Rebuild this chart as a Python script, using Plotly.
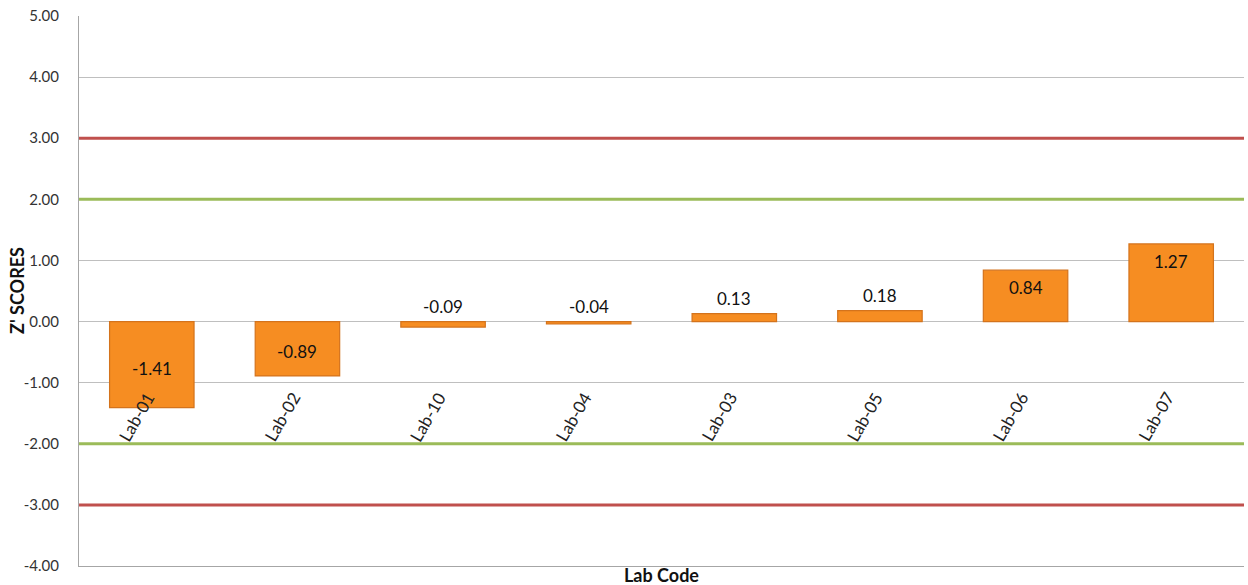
import plotly.graph_objects as go

# Z' scores per laboratory
labs = ["Lab-01", "Lab-02", "Lab-10", "Lab-04", "Lab-03", "Lab-05", "Lab-06", "Lab-07"]
z_scores = [-1.41, -0.89, -0.09, -0.04, 0.13, 0.18, 0.84, 1.27]

# Limit lines: warning (|z| = 2) and action (|z| = 3)
warning_limits = [2, -2]
action_limits = [3, -3]

y_ticks = [-4, -3, -2, -1, 0, 1, 2, 3, 4, 5]

FONT = "Lato"
BAR_FILL = "#F68D22"
BAR_EDGE = "#D4731C"
RED = "#C0504D"
GREEN = "#9BBB59"

fig = go.Figure()

fig.add_trace(go.Bar(
    x=labs,
    y=z_scores,
    width=0.58,
    marker=dict(color=BAR_FILL, line=dict(color=BAR_EDGE, width=1.2)),
    hoverinfo="x+y",
))

# limit lines across the full plot width
for v in action_limits:
    fig.add_shape(type="line", xref="paper", x0=0, x1=1, yref="y", y0=v, y1=v,
                  line=dict(color=RED, width=3), layer="above")
for v in warning_limits:
    fig.add_shape(type="line", xref="paper", x0=0, x1=1, yref="y", y0=v, y1=v,
                  line=dict(color=GREEN, width=3), layer="above")

annotations = []
# value labels
for lab, v in zip(labs, z_scores):
    text = f"{v:.2f}"
    if abs(v) < 0.5:
        annotations.append(dict(x=lab, y=max(v, 0), text=text, showarrow=False,
                                yanchor="bottom", yshift=3,
                                font=dict(family=FONT, size=17, color="#111")))
    elif v < 0:
        annotations.append(dict(x=lab, y=v * 0.55, text=text, showarrow=False,
                                yanchor="middle",
                                font=dict(family=FONT, size=17, color="#111")))
    else:
        annotations.append(dict(x=lab, y=v, text=text, showarrow=False,
                                yanchor="top", yshift=-5,
                                font=dict(family=FONT, size=17, color="#111")))

# category labels, rotated, hanging below the -1 gridline
for lab in labs:
    annotations.append(dict(x=lab, y=-1.0, text=lab, showarrow=False, textangle=-60,
                            xanchor="right", yanchor="top", xshift=10, yshift=-3,
                            font=dict(family=FONT, size=17, color="#222")))

# axis titles
annotations.append(dict(xref="paper", yref="paper", x=0.5, y=0, yshift=-9,
                        text="<b>Lab Code</b>", showarrow=False, yanchor="middle",
                        font=dict(family=FONT, size=18, color="#111")))
annotations.append(dict(xref="paper", yref="paper", x=0, xshift=-62, y=0.5,
                        text="<b>Z' SCORES</b>", showarrow=False, textangle=-90,
                        xanchor="center", yanchor="middle",
                        font=dict(family=FONT, size=18, color="#111")))

fig.update_layout(
    width=1248, height=585,
    margin=dict(l=79, r=4, t=16, b=19),
    paper_bgcolor="white", plot_bgcolor="white",
    showlegend=False,
    bargap=0.42,
    annotations=annotations,
    xaxis=dict(showticklabels=False, showgrid=False, zeroline=False,
               showline=True, linecolor="#A6A6A6", linewidth=1, mirror=False,
               ticks=""),
    yaxis=dict(range=[-4, 5], tickvals=y_ticks, ticktext=[f"{t:.2f}" for t in y_ticks],
               showgrid=True, gridcolor="#BFBFBF", gridwidth=1,
               zeroline=False, showline=True, linecolor="#A6A6A6", linewidth=1,
               ticks="", ticklabelstandoff=16,
               tickfont=dict(family=FONT, size=15, color="#333")),
)

fig.write_html("out.html")
